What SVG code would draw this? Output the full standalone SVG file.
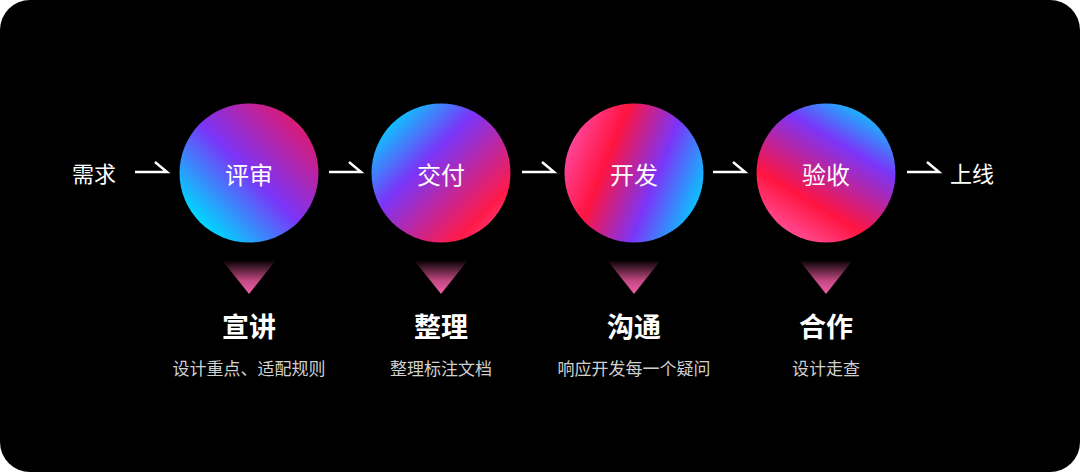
<svg xmlns="http://www.w3.org/2000/svg" width="1080" height="472" viewBox="0 0 1080 472">
<defs>
<style>
.lbl{font-family:"Noto Sans CJK SC",sans-serif;fill:#fff;font-size:24px;text-anchor:middle;dominant-baseline:central}
.side{font-family:"Noto Sans CJK SC",sans-serif;fill:#fff;font-size:22px;dominant-baseline:central}
.title{font-family:"Noto Sans CJK SC",sans-serif;fill:#fff;font-size:27px;font-weight:bold;text-anchor:middle}
.sub{font-family:"Noto Sans CJK SC",sans-serif;fill:#d0d0d0;font-size:17px;text-anchor:middle}
.arr{fill:none;stroke:#fff;stroke-width:2.5}
</style>
<linearGradient id="g1" x1="1" y1="0" x2="0" y2="1">
<stop offset="0" stop-color="#ff1040"/><stop offset="0.5" stop-color="#7a35f8"/><stop offset="0.85" stop-color="#00d6ff"/><stop offset="1" stop-color="#3a7cff"/></linearGradient>
<linearGradient id="g2" x1="0" y1="0" x2="1" y2="1">
<stop offset="0.1" stop-color="#00d6ff"/><stop offset="0.4" stop-color="#7a35f8"/><stop offset="0.8" stop-color="#ff1a48"/><stop offset="1" stop-color="#ff5aa8"/></linearGradient>
<linearGradient id="g3" x1="0" y1="0.3" x2="1" y2="0.7">
<stop offset="0" stop-color="#ff4aa0"/><stop offset="0.3" stop-color="#ff1440"/><stop offset="0.65" stop-color="#7a35f8"/><stop offset="1" stop-color="#00d0ff"/></linearGradient>
<linearGradient id="g4" x1="0.8" y1="0" x2="0.2" y2="1">
<stop offset="0" stop-color="#00d6ff"/><stop offset="0.3" stop-color="#7a35f8"/><stop offset="0.7" stop-color="#ff1440"/><stop offset="1" stop-color="#ff5aa8"/></linearGradient>
<linearGradient id="tri" x1="0" y1="0" x2="0" y2="1">
<stop offset="0" stop-color="#000"/><stop offset="0.6" stop-color="#c04880"/><stop offset="1" stop-color="#f060a8"/></linearGradient>
</defs>
<rect width="1080" height="472" fill="#fff"/>
<rect width="1080" height="472" rx="30" fill="#000"/>
<g id="connectors">
<path class="arr" d="M135 172H167L155 162"/>
<path class="arr" d="M329 172H361L349 162"/>
<path class="arr" d="M522 172H554L542 162"/>
<path class="arr" d="M713 172H745L733 162"/>
<path class="arr" d="M907 172H939L927 162"/>
</g>
<g id="start"><text class="side" x="72" y="172">需求</text></g>
<g id="end"><text class="side" x="950" y="172">上线</text></g>
<g id="n1"><circle cx="249" cy="173" r="69.5" fill="url(#g1)"/><text class="lbl" x="249" y="173">评审</text>
<path d="M222 260H276L249 294Z" fill="url(#tri)"/><text class="title" x="249" y="337">宣讲</text><text class="sub" x="249" y="375">设计重点、适配规则</text></g>
<g id="n2"><circle cx="441" cy="173" r="69.5" fill="url(#g2)"/><text class="lbl" x="441" y="173">交付</text>
<path d="M414 260H468L441 294Z" fill="url(#tri)"/><text class="title" x="441" y="337">整理</text><text class="sub" x="441" y="375">整理标注文档</text></g>
<g id="n3"><circle cx="634" cy="173" r="69.5" fill="url(#g3)"/><text class="lbl" x="634" y="173">开发</text>
<path d="M607 260H661L634 294Z" fill="url(#tri)"/><text class="title" x="634" y="337">沟通</text><text class="sub" x="634" y="375">响应开发每一个疑问</text></g>
<g id="n4"><circle cx="826" cy="173" r="69.5" fill="url(#g4)"/><text class="lbl" x="826" y="173">验收</text>
<path d="M799 260H853L826 294Z" fill="url(#tri)"/><text class="title" x="826" y="337">合作</text><text class="sub" x="826" y="375">设计走查</text></g>
</svg>
